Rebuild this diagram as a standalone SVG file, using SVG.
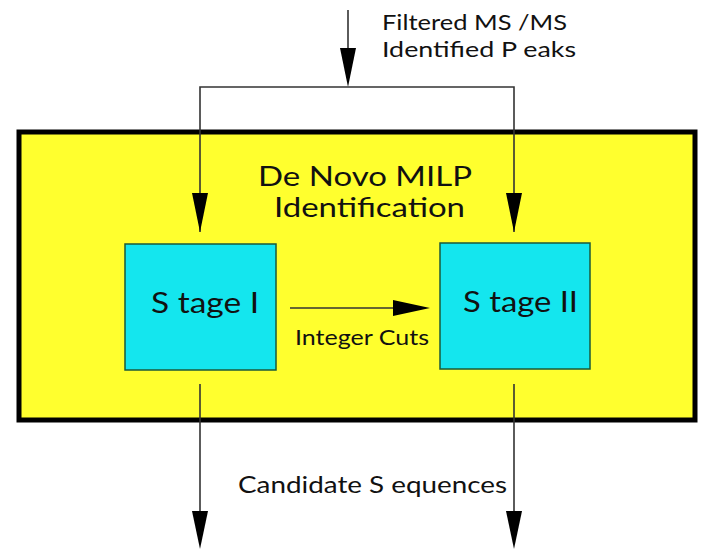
<svg xmlns="http://www.w3.org/2000/svg" width="710" height="549" viewBox="0 0 710 549">
<defs>
<style>
text{font-family:Lato,"Open Sans","Liberation Sans",sans-serif;fill:#111}
.ln{stroke:#333;stroke-width:1.6;fill:none}
.hd{fill:#000}
.stage{fill:#14e6ee;stroke:#1a5a3a;stroke-width:1.5}
</style>
</defs>
<rect width="710" height="549" fill="#fff"/>
<g id="milp">
<rect x="19" y="132" width="676" height="288" fill="#ffff2e" stroke="#000" stroke-width="5"/>
<text x="258" y="186" font-size="27" textLength="214" lengthAdjust="spacingAndGlyphs">De Novo MILP</text>
<text x="274" y="217" font-size="26" textLength="191" lengthAdjust="spacingAndGlyphs">Identification</text>
</g>
<g id="stage1">
<rect class="stage" x="125" y="244" width="151" height="126"/>
<text x="151" y="313" font-size="29" textLength="108" lengthAdjust="spacingAndGlyphs">S tage I</text>
</g>
<g id="stage2">
<rect class="stage" x="440" y="243" width="150" height="126"/>
<text x="463" y="312" font-size="29" textLength="115" lengthAdjust="spacingAndGlyphs">S tage II</text>
</g>
<g id="input">
<text x="382" y="30" font-size="22" textLength="185" lengthAdjust="spacingAndGlyphs">Filtered MS /MS</text>
<text x="382" y="57" font-size="22" textLength="194" lengthAdjust="spacingAndGlyphs">Identified P eaks</text>
</g>
<g id="output">
<text x="238" y="493" font-size="24" textLength="269" lengthAdjust="spacingAndGlyphs">Candidate S equences</text>
</g>
<g id="connectors">
<path class="ln" d="M348 10V60"/>
<polygon class="hd" points="340,48 356,48 348,87"/>
<path class="ln" d="M200 232V87H514V232"/>
<polygon class="hd" points="192,193 208,193 200,232"/>
<polygon class="hd" points="506,193 522,193 514,232"/>
<path class="ln" d="M290 308H400"/>
<polygon class="hd" points="393,300 393,316 430,308"/>
<text x="295" y="345" font-size="21" textLength="134" lengthAdjust="spacingAndGlyphs">Integer Cuts</text>
<path class="ln" d="M200 384V520"/>
<polygon class="hd" points="192,511 208,511 200,549"/>
<path class="ln" d="M514 384V520"/>
<polygon class="hd" points="506,511 522,511 514,549"/>
</g>
</svg>
